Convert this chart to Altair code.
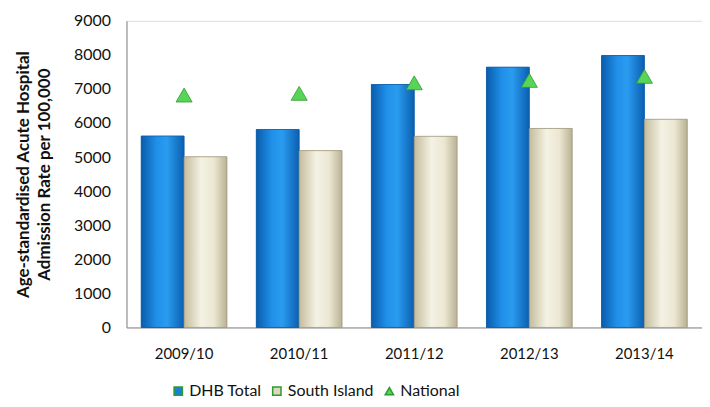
import altair as alt
import pandas as pd

categories = ["2009/10", "2010/11", "2011/12", "2012/13", "2013/14"]
dhb_total = [5620, 5810, 7130, 7640, 7980]
south_island = [5010, 5190, 5610, 5840, 6110]
national = [6820, 6870, 7180, 7250, 7370]
series_names = ["DHB Total", "South Island", "National"]
series_colors = ["#1a7fd6", "#dcd7bd", "#58d458"]
series_shapes = ["square", "square", "triangle-up"]

rows = []
for c, d, s in zip(categories, dhb_total, south_island):
    rows.append({"year": c, "series": "DHB Total", "value": d})
    rows.append({"year": c, "series": "South Island", "value": s})
bars_df = pd.DataFrame(rows)
nat_df = pd.DataFrame({"year": categories, "series": "National", "value": national})

FONT = "Lato"

x_enc = alt.X("year:N", sort=categories,
              scale=alt.Scale(paddingInner=0.255, paddingOuter=0.128),
              axis=alt.Axis(title=None, labelAngle=0, ticks=False, labelPadding=19,
                            labelFontSize=15, labelColor="#111111",
                            domainColor="#8a8a8a", labelFont=FONT))
y_enc = alt.Y("value:Q",
              scale=alt.Scale(domain=[0, 9000], nice=False),
              axis=alt.Axis(title=["Age-standardised Acute Hospital", "Admission Rate per 100,000"],
                            values=list(range(0, 9001, 1000)), format="d", ticks=False, grid=False,
                            labelPadding=16, labelFontSize=16, labelColor="#111111",
                            labelFont=FONT, domainColor="#8a8a8a",
                            titleFont=FONT, titleFontSize=17, titleFontWeight="bold",
                            titleColor="#111111", titlePadding=20, titleLineHeight=21))
xoff = alt.XOffset("series:N", scale=alt.Scale(domain=["DHB Total", "South Island"], paddingInner=0))

legend_cfg = dict(title=None, orient="none", direction="horizontal",
                  legendX=44, legendY=364, labelFontSize=16,
                  labelFont=FONT, labelColor="#111111",
                  symbolSize=70, columnPadding=7, labelOffset=3)
color_enc = alt.Color("series:N",
                      scale=alt.Scale(domain=series_names, range=series_colors),
                      legend=alt.Legend(**legend_cfg))
shape_enc = alt.Shape("series:N",
                      scale=alt.Scale(domain=series_names, range=series_shapes),
                      legend=alt.Legend(**legend_cfg))

base_bars = alt.Chart(bars_df).mark_bar().encode(x=x_enc, xOffset=xoff, y=y_enc, color=color_enc)

blue_grad = alt.Gradient(gradient="linear", x1=0, x2=1, y1=0, y2=0, stops=[
    alt.GradientStop(color="#0a5cab", offset=0),
    alt.GradientStop(color="#1f8fe8", offset=0.35),
    alt.GradientStop(color="#2a9cf0", offset=0.6),
    alt.GradientStop(color="#0b5fb0", offset=1)])
beige_grad = alt.Gradient(gradient="linear", x1=0, x2=1, y1=0, y2=0, stops=[
    alt.GradientStop(color="#c4bc9c", offset=0),
    alt.GradientStop(color="#f4f2e4", offset=0.4),
    alt.GradientStop(color="#ebe7d2", offset=0.7),
    alt.GradientStop(color="#b9b194", offset=1)])

dhb_bars = alt.Chart(bars_df).transform_filter(alt.datum.series == "DHB Total").mark_bar(
    fill=blue_grad, stroke="#0b5aa3", strokeWidth=0.8).encode(x=x_enc, xOffset=xoff, y=y_enc)
si_bars = alt.Chart(bars_df).transform_filter(alt.datum.series == "South Island").mark_bar(
    fill=beige_grad, stroke="#9e9880", strokeWidth=0.8).encode(x=x_enc, xOffset=xoff, y=y_enc)

points = alt.Chart(nat_df).mark_point(filled=True, opacity=1, size=260, stroke="#2f9a2f",
                                      strokeWidth=0.8).encode(
    x=x_enc, y=y_enc, color=color_enc, shape=shape_enc)

chart = alt.layer(base_bars, dhb_bars, si_bars, points).properties(
    width=578, height=308,
    autosize=alt.AutoSizeParams(type="none"),
    padding={"left": 119, "top": 12, "right": 0, "bottom": 71},
).configure_view(stroke=None).configure(background="white")

chart.save("out.html", embed_options={"renderer": "svg", "actions": False})
